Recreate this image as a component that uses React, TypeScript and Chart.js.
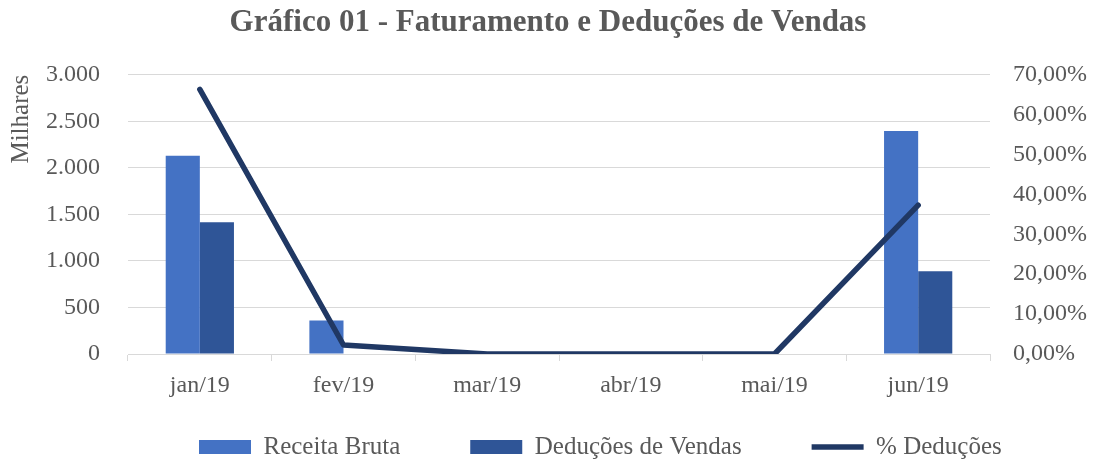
import React, { useEffect, useRef } from "react";
import { Chart, registerables } from "chart.js";

Chart.register(...registerables);

const categories = ["jan/19", "fev/19", "mar/19", "abr/19", "mai/19", "jun/19"];
const receitaBruta = [2130, 360, 0, 0, 0, 2395];
const deducoesVendas = [1415, 6, 0, 0, 0, 888];
const pctDeducoes = [0.663, 0.0225, 0, 0, 0, 0.373];
const leftTicks = { min: 0, max: 3000, step: 500 };
const rightTicks = { min: 0, max: 0.7, step: 0.1 };

const FONT = "'Liberation Serif', serif";
const TEXT = "#595959";
const GRID = "#D9D9D9";
const LEGEND_PAD = 70;
const LEGEND_FONT = 25;

function fmtThousands(v: number): string {
  return Math.round(v).toString().replace(/\B(?=(\d{3})+(?!\d))/g, ".");
}

const legendPlace = {
  id: "legendPlace",
  afterLayout(chart: any) {
    const lg = chart.legend;
    if (!lg) return;
    lg.top = 447 - LEGEND_PAD - LEGEND_FONT / 2;
    lg.bottom = chart.height;
    lg.height = lg.bottom - lg.top;
    lg.left = 199 - LEGEND_PAD;
    lg.right = chart.width;
    lg.width = lg.right - lg.left;
  },
};

export default function App() {
  const ref = useRef<HTMLCanvasElement | null>(null);

  useEffect(() => {
    document.body.style.margin = "0";
    const ctx = ref.current!.getContext("2d")!;
    const chart = new Chart(ctx, {
      type: "bar",
      data: {
        labels: categories,
        datasets: [
          {
            type: "bar",
            label: "Receita Bruta",
            data: receitaBruta,
            backgroundColor: "#4472C4",
            borderWidth: 0,
            yAxisID: "y",
            order: 2,
            categoryPercentage: 0.475,
            barPercentage: 1,
            pointStyle: "rect",
          } as any,
          {
            type: "bar",
            label: "Deduções de Vendas",
            data: deducoesVendas,
            backgroundColor: "#2F5597",
            borderWidth: 0,
            yAxisID: "y",
            order: 2,
            categoryPercentage: 0.475,
            barPercentage: 1,
            pointStyle: "rect",
          } as any,
          {
            type: "line",
            label: "% Deduções",
            data: pctDeducoes,
            borderColor: "#203864",
            backgroundColor: "#203864",
            borderWidth: 5.5,
            borderCapStyle: "round",
            borderJoinStyle: "round",
            pointRadius: 0,
            tension: 0,
            yAxisID: "y1",
            order: 0,
            pointStyle: "line",
          } as any,
        ],
      },
      options: {
        animation: false,
        responsive: false,
        maintainAspectRatio: false,
        layout: { padding: { left: 0, right: 0, top: 0, bottom: 0 } },
        plugins: {
          title: {
            display: true,
            text: "Gráfico 01 - Faturamento e Deduções de Vendas",
            color: TEXT,
            font: { family: FONT, size: 31, weight: "bold" },
            padding: { top: 4, bottom: 33.5 },
          },
          legend: {
            position: "bottom",
            align: "start",
            maxHeight: 40,
            labels: {
              color: TEXT,
              font: { family: FONT, size: LEGEND_FONT },
              usePointStyle: true,
              pointStyleWidth: 52,
              boxHeight: 14,
              padding: LEGEND_PAD,
              sort: (a: any, b: any) => a.datasetIndex - b.datasetIndex,
            },
          },
          tooltip: { enabled: false },
        },
        scales: {
          x: {
            grid: {
              offset: true,
              drawOnChartArea: false,
              drawTicks: true,
              tickLength: 7,
              color: GRID,
            },
            border: { display: true, color: GRID },
            ticks: { color: TEXT, font: { family: FONT, size: 24 }, padding: 10 },
            afterFit: (s: any) => {
              s.height = 68;
            },
          },
          y: {
            position: "left",
            min: leftTicks.min,
            max: leftTicks.max,
            grid: { color: GRID, drawTicks: false, lineWidth: 1 },
            border: { display: false },
            ticks: {
              stepSize: leftTicks.step,
              color: TEXT,
              font: { family: FONT, size: 24 },
              padding: 28,
              callback: (v: any) => fmtThousands(Number(v)),
            },
            title: {
              display: true,
              text: "Milhares",
              color: TEXT,
              align: "end",
              font: { family: FONT, size: 25 },
              padding: { top: 6, bottom: 0 },
            },
            afterFit: (s: any) => {
              s.width = 128;
            },
          },
          y1: {
            position: "right",
            min: rightTicks.min,
            max: rightTicks.max,
            grid: { drawOnChartArea: false, drawTicks: false },
            border: { display: false },
            ticks: {
              stepSize: rightTicks.step,
              color: TEXT,
              font: { family: FONT, size: 24 },
              padding: 23,
              callback: (v: any) =>
                (Number(v) * 100).toFixed(2).replace(".", ",") + "%",
            },
            afterFit: (s: any) => {
              s.width = 106;
            },
          },
        },
      } as any,
      plugins: [legendPlace],
    });
    return () => chart.destroy();
  }, []);

  return (
    <div style={{ width: 1096, height: 462, background: "#fff" }}>
      <canvas ref={ref} width={1096} height={462} />
    </div>
  );
}
